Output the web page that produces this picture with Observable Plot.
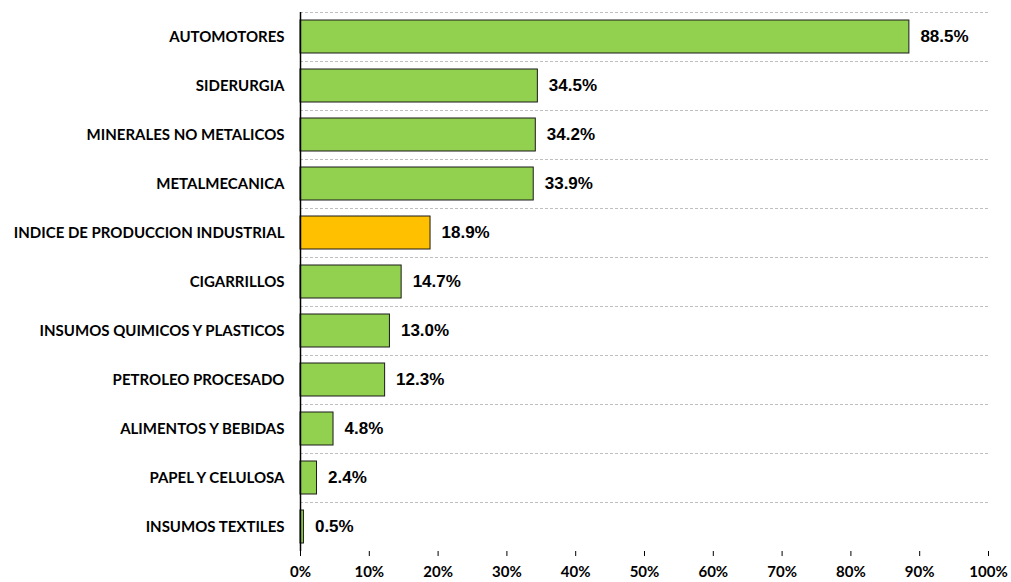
<!DOCTYPE html>
<html>
<head>
<meta charset="utf-8">
<script src="https://cdn.jsdelivr.net/npm/d3@7"></script>
<script src="https://cdn.jsdelivr.net/npm/@observablehq/plot@0.6"></script>
<style>
  html, body { margin: 0; padding: 0; background: #fff; }
  #chart { width: 1011px; height: 582px; }
</style>
</head>
<body>
<div id="chart"></div>
<script>
const categories = [
  "AUTOMOTORES",
  "SIDERURGIA",
  "MINERALES NO METALICOS",
  "METALMECANICA",
  "INDICE DE PRODUCCION INDUSTRIAL",
  "CIGARRILLOS",
  "INSUMOS QUIMICOS Y PLASTICOS",
  "PETROLEO PROCESADO",
  "ALIMENTOS Y BEBIDAS",
  "PAPEL Y CELULOSA",
  "INSUMOS TEXTILES"
];
const values = [88.5, 34.5, 34.2, 33.9, 18.9, 14.7, 13.0, 12.3, 4.8, 2.4, 0.5];
const highlight = "INDICE DE PRODUCCION INDUSTRIAL";
const xTicks = [0, 10, 20, 30, 40, 50, 60, 70, 80, 90, 100];

const data = categories.map((c, i) => ({category: c, value: values[i]}));

const W = 1011, H = 582;
const mTop = 12, mBottom = 31, mLeft = 300, mRight = 23;
const step = (H - mTop - mBottom) / categories.length;

const chart = Plot.plot({
  width: W,
  height: H,
  marginTop: mTop,
  marginBottom: mBottom,
  marginLeft: mLeft,
  marginRight: mRight,
  style: {fontFamily: "Lato, 'Open Sans', sans-serif", background: "#fff", overflow: "visible"},
  x: {domain: [0, 100], ticks: xTicks, tickFormat: d => d + "%", label: null},
  y: {domain: categories, padding: 0.33, paddingOuter: 0.165, label: null},
  marks: [
    Plot.ruleY(categories, {y: d => d, dy: -step / 2, x1: 0, x2: 100, stroke: "#bfbfbf", strokeDasharray: "3,2", strokeWidth: 1}),
    Plot.barX(data, {
      y: "category",
      x: "value",
      fill: d => d.category === highlight ? "#FFC000" : "#92D050",
      stroke: "#1a1a1a",
      strokeWidth: 1
    }),
    Plot.text(data, {
      y: "category",
      x: "value",
      text: d => d.value.toFixed(1) + "%",
      textAnchor: "start",
      dx: 11,
      fontSize: 17,
      fontWeight: "bold",
      fontFamily: "'Liberation Sans', Arial, sans-serif",
      fill: "#000"
    }),
    Plot.axisX({ticks: xTicks, tickFormat: d => d + "%", tickSize: 5, tickPadding: 10, fontSize: 15, fontWeight: "bold", label: null, stroke: "#000", color: "#000"}),
    Plot.axisY({tickSize: 0, tickPadding: 16, fontSize: 15, fontWeight: "bold", label: null, color: "#000"}),
    Plot.ruleX([0], {stroke: "#000", strokeWidth: 1.5}),
    Plot.ruleY([0], {frameAnchor: "bottom", stroke: "#000", strokeWidth: 1.5})
  ]
});
document.getElementById("chart").appendChild(chart);
</script>
</body>
</html>
